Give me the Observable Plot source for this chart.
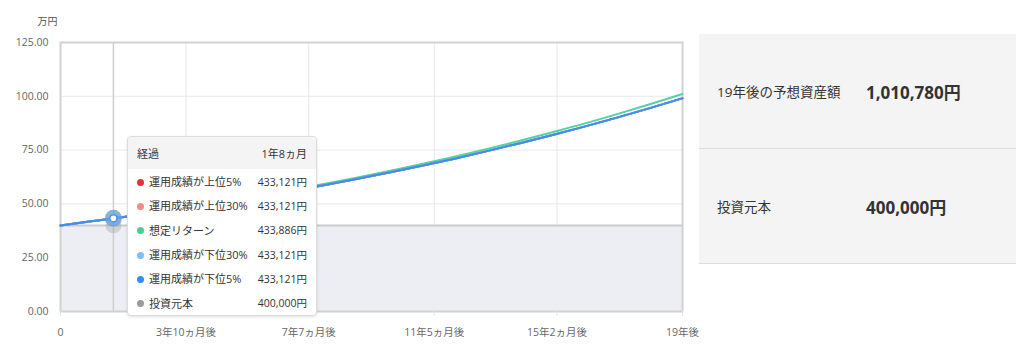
<!DOCTYPE html>
<html><head><meta charset="utf-8">
<script src="https://cdn.jsdelivr.net/npm/d3@7"></script>
<script src="https://cdn.jsdelivr.net/npm/@observablehq/plot@0.6"></script>
<style>
body{margin:0;background:#fff;font-family:"Open Sans","Noto Sans CJK JP",sans-serif;}
#wrap{position:relative;width:1024px;height:355px;overflow:hidden;}
#tip{position:absolute;left:127px;top:136px;width:188px;height:178px;background:#fff;border:1px solid #ddd;border-radius:4px;box-shadow:0 1px 3px rgba(0,0,0,0.12);font-size:11px;color:#333;overflow:hidden;}
#tip .hd{height:32px;background:#f4f4f4;display:flex;justify-content:space-between;align-items:center;padding:0 9px;}
#tip .row{height:24.3px;display:flex;justify-content:space-between;align-items:center;padding:0 9px;white-space:nowrap;}
#tip .val{font-size:10.5px;}
#tip .dot{display:inline-block;width:7px;height:7px;border-radius:50%;margin-right:5px;vertical-align:middle;position:relative;top:-1px;}
#panel{position:absolute;left:699px;top:34px;width:317px;background:#f4f4f4;}
#panel .r{height:114px;display:flex;align-items:center;border-bottom:1px solid #dcdcdc;}
#panel .l{width:149px;padding-left:18px;font-size:13.5px;color:#333;}
#panel .v{font-size:17px;font-weight:bold;color:#333;}
</style></head>
<body><div id="wrap"><div id="chart"></div><div id="tip"></div><div id="panel"></div></div>
<script>
const years = [0,1,2,3,4,5,6,7,8,9,10,11,12,13,14,15,16,17,18,19];
const expected = [40.0,42.0,44.1,46.3,48.6,51.1,53.6,56.3,59.1,62.1,65.2,68.4,71.8,75.4,79.2,83.2,87.3,91.7,96.3,101.1];
const upper5   = [40.0,42.0,44.0,46.2,48.4,50.8,53.3,55.9,58.6,61.5,64.5,67.6,70.9,74.4,78.1,81.9,85.9,90.1,94.5,99.1];
const upper30  = [40.0,42.0,44.0,46.2,48.4,50.8,53.3,55.9,58.6,61.5,64.5,67.6,70.9,74.4,78.1,81.9,85.9,90.1,94.5,99.1];
const lower30  = [40.0,42.0,44.0,46.2,48.4,50.8,53.3,55.9,58.6,61.5,64.5,67.6,70.9,74.4,78.1,81.9,85.9,90.1,94.5,99.1];
const lower5   = [40.0,42.0,44.0,46.2,48.4,50.8,53.3,55.9,58.6,61.5,64.5,67.6,70.9,74.4,78.1,81.9,85.9,90.1,94.5,99.1];
const principal = 40;
const xTickMonths = [0,46,91,137,182,228];
const xTickLabels = ["0","3年10ヵ月後","7年7ヵ月後","11年5ヵ月後","15年2ヵ月後","19年後"];
const yTicks = [0,25,50,75,100,125];
const hoverMonth = 19.4;
const hoverValue = 43.31;
const tipTitle = ["経過","1年8ヵ月"];
const tipLabels = ["運用成績が上位5%","運用成績が上位30%","想定リターン","運用成績が下位30%","運用成績が下位5%","投資元本"];
const tipValues = ["433,121円","433,121円","433,886円","433,121円","433,121円","400,000円"];
const tipColors = ["#e8303a","#f28a8a","#45cf95","#7fbdf2","#2f8fef","#9a9a9a"];
const panelLabels = ["19年後の予想資産額","投資元本"];
const panelValues = ["1,010,780円","400,000円"];

const series = [
  {name:"想定リターン", vals:expected, color:"#52d3a2"},
  {name:"上位5%", vals:upper5, color:"#e8303a"},
  {name:"上位30%", vals:upper30, color:"#f28a8a"},
  {name:"下位30%", vals:lower30, color:"#7fbdf2"},
  {name:"下位5%", vals:lower5, color:"#3b8ff0"}
];
const rows = [];
series.forEach(s => years.forEach((y,i) => rows.push({s:s.name, m:y*12, v:s.vals[i], c:s.color})));
const base = years.map(y => ({m:y*12, v:principal}));

const plot = Plot.plot({
  width: 700, height: 355,
  marginLeft: 60, marginRight: 18, marginTop: 42, marginBottom: 44,
  style:{fontFamily:'"Open Sans","Noto Sans CJK JP",sans-serif', fontSize:"10.5px", color:"#666", background:"transparent"},
  x:{domain:[0,228]},
  y:{domain:[0,125]},
  marks:[
    Plot.gridY(yTicks, {stroke:"#e9e9e9", strokeOpacity:1}),
    Plot.gridX(xTickMonths, {stroke:"#e4e6ea", strokeOpacity:1}),
    Plot.areaY(base, {x:"m", y:"v", fill:"#eceef3"}),
    Plot.ruleY([principal], {stroke:"#c9cacd", strokeWidth:2}),
    Plot.ruleX([hoverMonth], {stroke:"#cfcfcf", strokeWidth:1.5}),
    Plot.frame({stroke:"#d2d2d2", strokeWidth:2}),
    Plot.axisY(yTicks, {tickFormat:d3.format(".2f"), tickSize:0, tickPadding:12, label:null, fill:"#666"}),
    Plot.axisX(xTickMonths, {tickFormat:(d,i)=>xTickLabels[i], tickSize:5, stroke:"#dfe3ea", tickPadding:12, label:null, fill:"#666"}),
    Plot.text(["万円"], {frameAnchor:"top-left", dx:-23, dy:-25, fill:"#555", fontSize:10}),
    Plot.line(rows.filter(d=>d.s==="想定リターン"), {x:"m", y:"v", stroke:"c", strokeWidth:2, curve:"monotone-x"}),
    Plot.line(rows.filter(d=>d.s!=="想定リターン"), {x:"m", y:"v", z:"s", stroke:"c", strokeWidth:2, curve:"monotone-x"}),
    Plot.dot([{m:hoverMonth, v:principal}], {x:"m", y:"v", r:8, fill:"#9a9a9a", fillOpacity:0.35}),
    Plot.dot([{m:hoverMonth, v:hoverValue}], {x:"m", y:"v", r:8.5, fill:"#6a9fd2", fillOpacity:0.8}),
    Plot.dot([{m:hoverMonth, v:hoverValue}], {x:"m", y:"v", r:3.5, fill:"#ffffff", stroke:"#3b8ff0", strokeWidth:1.2})
  ]
});
document.getElementById("chart").appendChild(plot);

const tip = document.getElementById("tip");
tip.innerHTML = `<div class="hd"><span>${tipTitle[0]}</span><span>${tipTitle[1]}</span></div>` +
  tipLabels.map((l,i)=>`<div class="row"><span><span class="dot" style="background:${tipColors[i]}"></span>${l}</span><span class="val">${tipValues[i]}</span></div>`).join("");
const panel = document.getElementById("panel");
panel.innerHTML = panelLabels.map((l,i)=>`<div class="r"><div class="l">${l}</div><div class="v">${panelValues[i]}</div></div>`).join("");
</script></body></html>
